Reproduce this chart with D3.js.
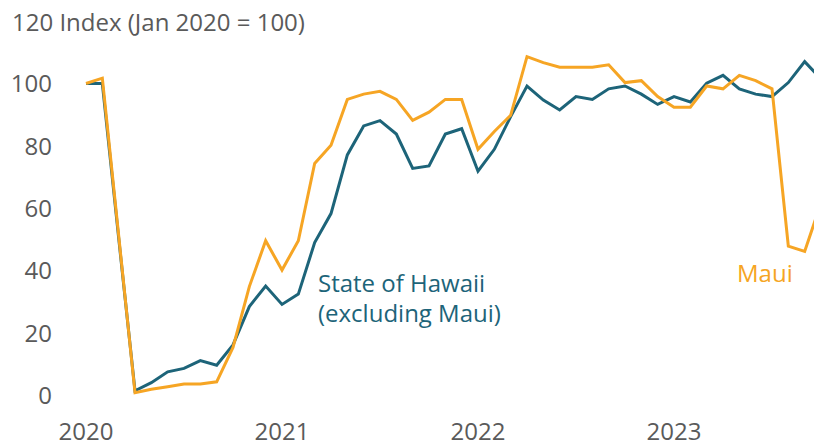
<!DOCTYPE html>
<html>
<head>
<meta charset="utf-8">
<script src="https://cdn.jsdelivr.net/npm/d3@7"></script>
<style>
  body { margin: 0; background: #fff; }
  svg { display: block; font-family: "Open Sans", sans-serif; }
</style>
</head>
<body>
<svg id="chart" width="814" height="443"></svg>
<script>
"use strict"

// monthly index, Jan 2020 .. Oct 2023 (Jan 2020 = 100)
const months = d3.range(46);
const years = ["2020", "2021", "2022", "2023"];
const yTicks = [0, 20, 40, 60, 80, 100];

const stateExMaui = [
  100, 100, 50.5, 1.5, 4.1, 7.6, 8.7, 11.2, 9.7, 16.2, 28.5, 35.1,
  29.2, 32.5, 49, 58.3, 77.1, 86.4, 88.1, 83.8, 72.8, 73.6, 83.8, 85.5,
  71.9, 78.9, 89.4, 99.2, 94.7, 91.5, 95.8, 94.9, 98.3, 99.2, 96.6, 93.3,
  95.8, 94.1, 100.1, 102.6, 98.3, 96.6, 95.8, 100.3, 107, 101.5
];
const maui = [
  100, 101.7, 51.3, 0.9, 2, 2.8, 3.7, 3.7, 4.4, 15.4, 34.9, 49.6,
  40.2, 49.6, 74.4, 80.2, 94.9, 96.6, 97.5, 94.9, 88.2, 90.8, 94.9, 94.9,
  78.9, 84.6, 89.8, 108.6, 106.7, 105.2, 105.2, 105.2, 106, 100.3, 100.9, 95.8,
  92.4, 92.4, 99.2, 98.3, 102.6, 100.9, 98.3, 47.9, 46.2, 61.7
];

const teal = "#1d6479";
const orange = "#f6a524";
const grey = "#5a5a5a";
const fontSize = 24;

const svg = d3.select("#chart");

const x = d3.scaleLinear().domain([0, 36]).range([86, 674]);
const y = d3.scaleLinear().domain([0, 100]).range([395.5, 83.5]);

// y tick labels
svg.append("g")
  .selectAll("text")
  .data(yTicks)
  .join("text")
  .attr("x", 52)
  .attr("y", d => y(d))
  .attr("dy", "0.36em")
  .attr("text-anchor", "end")
  .attr("fill", grey)
  .attr("font-size", fontSize)
  .text(d => d);

// axis title, the "120" sits at the top tick position
svg.append("text")
  .attr("x", 12)
  .attr("y", 31)
  .attr("fill", grey)
  .attr("font-size", fontSize)
  .text("120 Index (Jan 2020 = 100)");

// year labels
svg.append("g")
  .selectAll("text")
  .data(years)
  .join("text")
  .attr("x", (d, i) => x(i * 12))
  .attr("y", 439.5)
  .attr("text-anchor", "middle")
  .attr("fill", grey)
  .attr("font-size", fontSize)
  .text(d => d);

const line = d3.line()
  .x((d, i) => x(months[i]))
  .y(d => y(d));

svg.append("path")
  .datum(stateExMaui)
  .attr("d", line)
  .attr("fill", "none")
  .attr("stroke", teal)
  .attr("stroke-width", 3)
  .attr("stroke-linejoin", "miter");

svg.append("path")
  .datum(maui)
  .attr("d", line)
  .attr("fill", "none")
  .attr("stroke", orange)
  .attr("stroke-width", 3)
  .attr("stroke-linejoin", "miter");

// series labels
const stateLbl = svg.append("text")
  .attr("x", 318)
  .attr("y", 291.5)
  .attr("fill", teal)
  .attr("font-size", fontSize);
stateLbl.append("tspan").attr("x", 318).text("State of Hawaii");
stateLbl.append("tspan").attr("x", 318).attr("dy", 30).text("(excluding Maui)");

svg.append("text")
  .attr("x", 737)
  .attr("y", 281.5)
  .attr("fill", orange)
  .attr("font-size", fontSize)
  .text("Maui");
</script>
</body>
</html>
